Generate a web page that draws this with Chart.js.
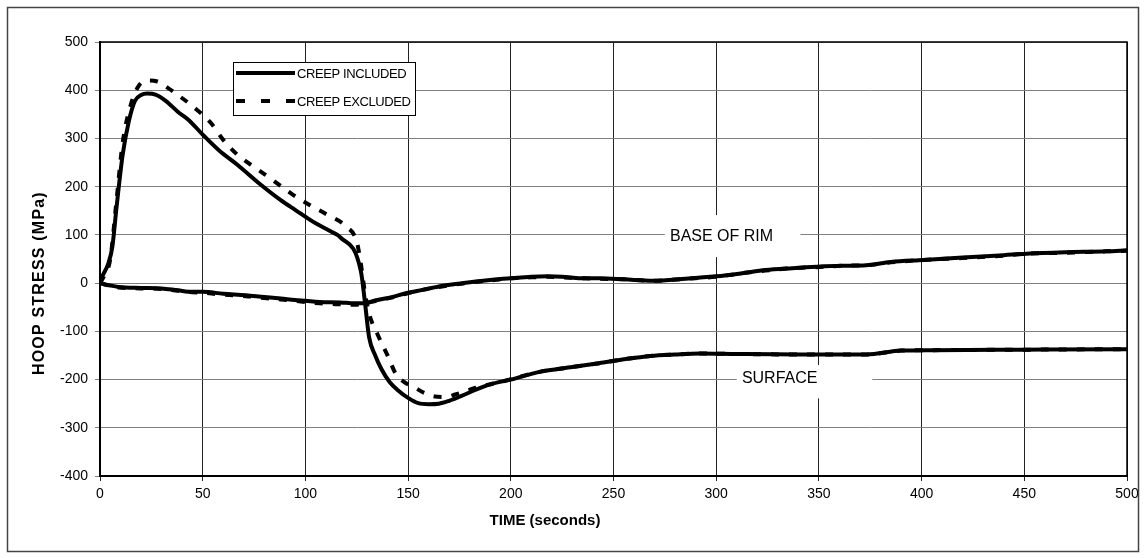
<!DOCTYPE html>
<html>
<head>
<meta charset="utf-8">
<script src="https://cdn.jsdelivr.net/npm/chart.js@4/dist/chart.umd.min.js"></script>
<style>
  html, body { margin: 0; padding: 0; background: #fff; }
  #wrap { width: 1145px; height: 558px; }
</style>
</head>
<body>
<div id="wrap"><canvas id="chart" width="1145" height="558"></canvas></div>
<script>
// ===== DATA =====
const xTicks = [0, 50, 100, 150, 200, 250, 300, 350, 400, 450, 500];
const yTicks = [-400, -300, -200, -100, 0, 100, 200, 300, 400, 500];
const xTitle = "TIME (seconds)";
const yTitle = "HOOP STRESS (MPa)";

// surface, creep included
const surfInclT = [0, 1, 4, 6, 8, 11, 14, 17, 20, 23, 27, 32, 38, 43, 50, 58, 67, 78, 88, 95, 105, 112, 117, 127, 129, 131, 134, 137, 141, 145, 150, 155, 160, 165, 170, 176, 183, 190, 200, 214, 230, 243, 255, 268, 280, 292, 310, 341, 373, 390, 406, 450, 500];
const surfInclV = [0, 13, 40, 75, 155, 265, 335, 378, 390, 393, 391, 378, 355, 339, 308, 275, 245, 205, 172, 152, 124, 108, 95, 25, -40, -112, -150, -178, -205, -222, -238, -249, -251, -250, -244, -234, -221, -210, -200, -184, -174, -166, -158, -151, -148, -146, -147, -148, -148, -140, -139, -138, -137];

// surface, creep excluded
const surfExclT = [0, 2, 5, 8, 11, 15, 19, 23, 28, 33, 37, 45, 54, 60, 67, 76, 84, 93, 102, 111, 120, 125, 127, 129, 131, 135, 140, 144, 148, 153, 158, 163, 168, 173, 183, 195, 214, 230, 243, 255, 268, 280, 292, 310, 341, 373, 390, 406, 450, 500];
const surfExclV = [0, 15, 50, 170, 290, 370, 410, 420, 418, 405, 393, 367, 332, 297, 266, 238, 214, 186, 162, 141, 117, 86, 40, -20, -63, -105, -150, -188, -205, -216, -228, -235, -236, -231, -217, -205, -184, -174, -166, -158, -151, -148, -146, -147, -148, -148, -140, -139, -138, -137];

// base of rim, creep included
const baseInclT = [0, 5, 9, 20, 30, 38, 45, 50, 60, 71, 80, 88, 95, 107, 117, 124, 128, 135, 142, 149, 157, 165, 173, 182, 191, 200, 210, 218, 225, 234, 243, 255, 269, 285, 300, 312, 324, 337, 349, 361, 373, 385, 401, 420, 440, 451, 470, 490, 500];
const baseInclV = [0, -5, -8, -10, -11, -15, -18, -18, -22, -25, -29, -32, -35, -39, -40, -42, -42, -35, -29, -21, -14, -7, -2, 3, 7, 10, 13, 14, 13, 10, 10, 8, 5, 9, 14, 20, 27, 31, 34, 36, 37, 44, 48, 53, 58, 61, 64, 66, 68];

// base of rim, creep excluded
const baseExclT = [0, 5, 9, 20, 30, 38, 45, 50, 60, 71, 80, 88, 95, 107, 117, 124, 128, 135, 142, 149, 157, 165, 173, 182, 191, 200, 210, 218, 225, 234, 243, 255, 269, 285, 300, 312, 324, 337, 349, 361, 373, 385, 401, 420, 440, 451, 470, 490, 500];
const baseExclV = [0, -6, -9, -11, -12, -16, -19, -20, -24, -27, -31, -34, -37, -42, -44, -45, -43, -36, -30, -22, -14, -8, -3, 2, 6, 10, 12, 13, 12, 10, 9, 8, 5, 9, 13, 20, 26, 31, 33, 36, 37, 43, 48, 52, 57, 61, 63, 66, 67];

// text labels on the plot: box corners and text anchor in data units
const notes = [
    { text: "BASE OF RIM", box: [275, 141, 341, 54], at: [277.5, 96] },
    { text: "SURFACE", box: [310, -170, 376, -239], at: [312.5, -197.5] }
];

const FONT = "'Liberation Sans', Arial, sans-serif";

function pts(ts, vs) {
    return ts.map((t, i) => ({ x: t, y: vs[i] }));
}

// ===== PLUGINS =====
const frame = {
    id: "frame",
    beforeDatasetsDraw(chart) {
        const ctx = chart.ctx, sx = chart.scales.x, sy = chart.scales.y;
        ctx.save();
        ctx.font = "16px " + FONT;
        ctx.textBaseline = "middle";
        notes.forEach(n => {
            const x0 = sx.getPixelForValue(n.box[0]), y0 = sy.getPixelForValue(n.box[1]);
            const x1 = sx.getPixelForValue(n.box[2]), y1 = sy.getPixelForValue(n.box[3]);
            ctx.fillStyle = "#fff";
            ctx.fillRect(x0, y0, x1 - x0, y1 - y0);
            ctx.fillStyle = "#000";
            ctx.fillText(n.text, sx.getPixelForValue(n.at[0]), sy.getPixelForValue(n.at[1]));
        });
        ctx.restore();
    },
    afterDraw(chart) {
        const ctx = chart.ctx, a = chart.chartArea, sy = chart.scales.y;
        ctx.save();
        // plot border
        ctx.strokeStyle = "#000";
        ctx.lineWidth = 1.5;
        ctx.strokeRect(a.left, a.top, a.right - a.left, a.bottom - a.top);
        // outer frame
        ctx.strokeStyle = "#444";
        ctx.lineWidth = 1.5;
        ctx.strokeRect(7.5, 7.5, 1131, 544);

        // axis titles (x title sits left of centre, y title centred on zero)
        ctx.fillStyle = "#000";
        ctx.textAlign = "center";
        ctx.textBaseline = "middle";
        ctx.font = "bold 15px " + FONT;
        ctx.fillText(xTitle, a.left + 445, 521);
        ctx.save();
        ctx.translate(40, sy.getPixelForValue(0));
        ctx.rotate(-Math.PI / 2);
        ctx.font = "bold 16px " + FONT;
        ctx.letterSpacing = "1.2px";
        ctx.fillText(yTitle, 0, 0);
        ctx.restore();

        // legend box
        const lx = a.left + 133, ly = a.top + 20;
        ctx.textAlign = "left";
        ctx.fillStyle = "#fff";
        ctx.fillRect(lx, ly, 182, 53);
        ctx.strokeStyle = "#000";
        ctx.lineWidth = 1;
        ctx.strokeRect(lx + 0.5, ly + 0.5, 182, 53);
        const items = [chart.data.datasets[0], chart.data.datasets[1]];
        items.forEach((ds, i) => {
            const y = ly + 11 + i * 28;
            ctx.strokeStyle = ds.borderColor;
            ctx.lineWidth = 4;
            ctx.setLineDash(ds.borderDash ? [9, 16] : []);
            ctx.beginPath();
            ctx.moveTo(lx + 3, y);
            ctx.lineTo(lx + 62, y);
            ctx.stroke();
            ctx.setLineDash([]);
            ctx.fillStyle = "#000";
            ctx.font = "13px " + FONT;
            ctx.letterSpacing = "-0.4px";
            ctx.textBaseline = "middle";
            ctx.fillText(ds.label, lx + 64, y + 1);
        });
        ctx.restore();
    }
};

// ===== CHART =====
const lineStyle = { borderColor: "#000", borderWidth: 4, pointRadius: 0, cubicInterpolationMode: "monotone", fill: false };

new Chart(document.getElementById("chart"), {
    type: "line",
    data: {
        datasets: [
            Object.assign({ label: "CREEP INCLUDED", data: pts(surfInclT, surfInclV) }, lineStyle),
            Object.assign({ label: "CREEP EXCLUDED", data: pts(surfExclT, surfExclV), borderDash: [8, 10] }, lineStyle),
            Object.assign({ label: "CREEP INCLUDED", data: pts(baseInclT, baseInclV) }, lineStyle),
            Object.assign({ label: "CREEP EXCLUDED", data: pts(baseExclT, baseExclV), borderDash: [8, 10] }, lineStyle)
        ]
    },
    options: {
        responsive: false,
        animation: false,
        layout: { padding: { top: 42, right: 18, left: 0, bottom: 0 } },
        plugins: { legend: { display: false }, tooltip: { enabled: false } },
        scales: {
            x: {
                type: "linear",
                min: 0, max: 500,
                afterBuildTicks: s => { s.ticks = xTicks.map(v => ({ value: v })); },
                afterFit: s => { s.height = 82; },
                grid: { color: "#222", lineWidth: 1, tickLength: 5 },
                border: { color: "#000", width: 2 },
                ticks: { color: "#000", padding: 5, font: { family: FONT, size: 14 } },
                title: { display: false }
            },
            y: {
                min: -400, max: 500,
                afterBuildTicks: s => { s.ticks = yTicks.map(v => ({ value: v })); },
                afterFit: s => { s.width = 100; },
                grid: { color: "#808080", lineWidth: 1, tickLength: 5 },
                border: { color: "#000", width: 2 },
                ticks: { color: "#000", padding: 7, font: { family: FONT, size: 14 } },
                title: { display: false }
            }
        }
    },
    plugins: [frame]
});
</script>
</body>
</html>
